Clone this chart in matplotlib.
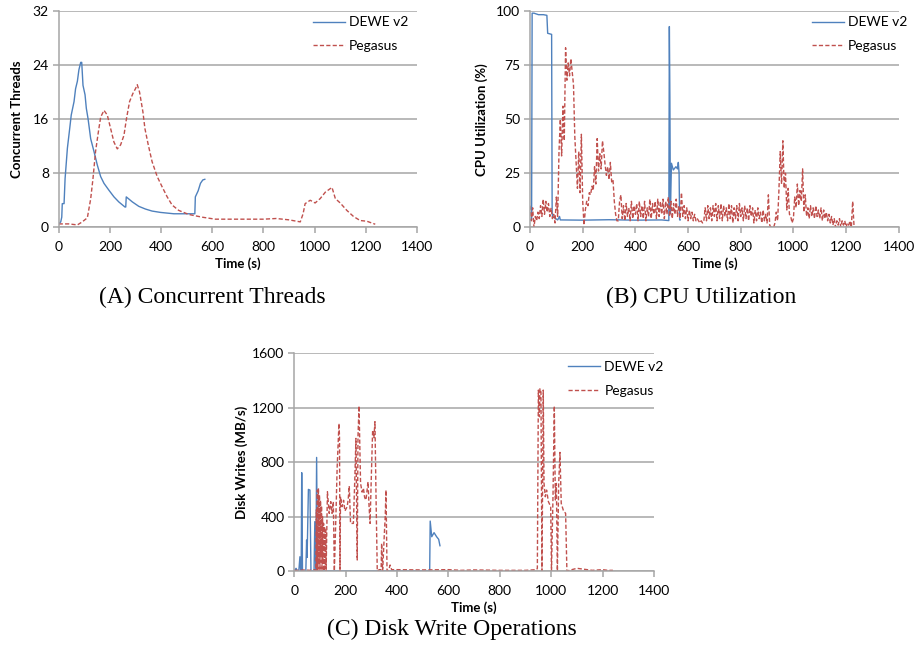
import numpy as np
import matplotlib
matplotlib.use("Agg")
import matplotlib.pyplot as plt

# ---------------- data ----------------
# (A) Concurrent threads
dewe_thr_t = [0, 8, 12, 14, 21, 25, 34, 43, 49, 60, 66, 73, 79, 86, 90, 95, 103, 108, 115, 125,
              138, 151, 164, 177, 196, 216, 235, 259, 262, 264, 288, 313, 339, 365, 398, 450,
              489, 532, 534, 545, 554, 563, 571]
dewe_thr_v = [0.5, 0.8, 1.5, 3.5, 3.5, 7.2, 11.7, 14.6, 16.6, 18.6, 20.5, 21.6, 23.3, 24.4, 24.4,
              21.0, 19.6, 17.6, 16.0, 13.1, 11.2, 9.2, 7.5, 6.5, 5.5, 4.5, 3.75, 3.0, 3.0, 4.5,
              3.75, 3.1, 2.7, 2.4, 2.2, 2.0, 2.0, 2.0, 4.5, 5.4, 6.5, 7.0, 7.1]

peg_thr_t = [0, 40, 73, 92, 112, 125, 134, 144, 155, 164, 177, 190, 203, 216, 229, 242, 255, 265,
             277, 290, 300, 307, 316, 329, 337, 350, 365, 385, 404, 424, 443, 469, 508, 560, 612,
             700, 800, 850, 900, 944, 955, 963, 983, 1002, 1022, 1042, 1068, 1081, 1100, 1126,
             1152, 1178, 1204, 1237]
peg_thr_v = [0.5, 0.5, 0.35, 0.8, 1.4, 4.2, 7.2, 11.2, 14.1, 16.3, 17.3, 16.6, 14.6, 12.6, 11.6,
             12.2, 13.6, 16.1, 18.6, 19.8, 20.5, 21.1, 20.0, 17.1, 14.6, 12.2, 9.7, 7.5, 6.0, 4.5,
             3.3, 2.5, 1.9, 1.5, 1.2, 1.2, 1.2, 1.3, 1.1, 0.8, 2.0, 3.5, 4.0, 3.6, 4.25, 5.2, 5.9,
             4.25, 3.6, 2.5, 1.6, 1.0, 0.9, 0.45]

# (B) CPU utilization
dewe_cpu_t = [0, 6, 8, 15, 32, 51, 64, 67, 82, 84, 86, 95, 105, 112, 115, 120, 200, 300, 400,
              500, 527, 529, 531, 533, 537, 544, 554, 560, 563, 566, 568, 570]
dewe_cpu_v = [3.4, 3.4, 99.0, 99.0, 98.3, 98.3, 98.0, 89.7, 89.2, 6.5, 5.0, 4.2, 3.4, 5.0, 3.4,
              3.4, 3.3, 3.5, 3.3, 3.4, 3.1, 92.8, 60.0, 6.5, 29.6, 26.5, 28.0, 27.0, 30.0, 25.0,
              3.4, 3.4]

peg_cpu_step = 5  # sampling interval (s)
peg_cpu_v = [10, 3, 9, 0, 5, 3, 7, 4, 10, 5, 13, 6, 12, 7, 11, 5, 9, 4, 6, 2,
             14, 5, 35, 50, 33, 56, 40, 83, 68, 76, 70, 78, 72, 66, 42, 30, 18, 35, 16, 43,
             12, 1, 8, 12, 10, 16, 15, 19, 17, 28, 20, 41, 26, 34, 27, 40, 35, 29, 24, 28,
             22, 30, 21, 22, 12, 6, 3, 3, 12, 15, 4, 10, 3, 11, 5, 9, 3, 12, 4, 10,
             6, 11, 3, 12, 5, 10, 4, 12, 3, 9, 5, 13, 4, 11, 6, 12, 4, 13, 5, 12,
             6, 13, 4, 12, 6, 14, 5, 12, 4, 11, 6, 13, 5, 10, 4, 16, 5, 10, 4, 9,
             3, 8, 4, 7, 3, 6, 3, 4, 3, 2, 3, 2, 3, 9, 3, 10, 4, 9, 3, 10,
             5, 11, 3, 10, 4, 11, 3, 10, 5, 9, 3, 11, 4, 10, 2, 9, 4, 10, 3, 11,
             5, 9, 3, 10, 4, 9, 3, 10, 5, 9, 2, 8, 3, 9, 4, 7, 2, 8, 3, 6,
             2, 15, 1, 0, 0, 0, 2, 7, 3, 17, 35, 20, 40, 18, 25, 8, 18, 6, 5, 2,
             4, 14, 9, 20, 10, 17, 12, 27, 7, 15, 5, 9, 4, 10, 5, 9, 4, 10, 5, 8,
             4, 9, 3, 8, 4, 7, 3, 6, 2, 5, 1, 4, 0, 3, 1, 4, 0, 3, 1, 3,
             0, 2, 1, 3, 0, 12, 1]

# (C) Disk writes
dewe_dw_t = [0, 7, 12, 18, 22, 25, 27, 29, 32, 45, 48, 50, 55, 61, 65, 77, 80, 84, 87, 90, 100,
             300, 527, 529, 535, 544, 554, 562, 567]
dewe_dw_v = [0, 20, 0, 7, 105, 0, 0, 723, 0, 0, 228, 100, 600, 595, 0, 0, 363, 0, 835, 0, 0,
             0, 0, 367, 252, 282, 252, 233, 186]

peg_dw_t = [0, 20, 40, 60, 80, 84, 86, 88, 90, 92, 94, 96, 98, 100, 102, 104, 106, 108, 110, 112,
            114, 116, 118, 120, 122, 124, 129, 136, 142, 147, 152, 156, 162, 167, 174, 176, 178,
            180, 186, 192, 197, 206, 210, 214, 219, 230, 236, 240, 245, 248, 252, 258, 264, 269,
            274, 279, 287, 291, 295, 300, 305, 310, 314, 318, 323, 331, 338, 340, 344, 350, 354,
            357, 361, 368, 373, 379, 400, 500, 600, 650, 700, 800, 900, 943, 946, 950, 954, 956,
            960, 964, 969, 972, 977, 982, 989, 998, 1001, 1007, 1012, 1016, 1020, 1024, 1029,
            1034, 1039, 1048, 1056, 1061, 1080, 1100, 1120, 1140, 1160, 1200, 1220, 1240]
peg_dw_v = [5, 5, 8, 5, 10, 0, 450, 0, 595, 0, 609, 50, 560, 0, 520, 100, 480, 0, 400, 50,
            350, 0, 326, 20, 300, 0, 583, 424, 510, 424, 510, 0, 400, 767, 1085, 990, 0,
            546, 473, 520, 441, 473, 530, 625, 350, 350, 700, 975, 81, 990, 1213, 644, 580, 609,
            540, 522, 656, 480, 350, 700, 1036, 980, 1098, 571, 0, 10, 10, 203, 0, 252, 400,
            595, 0, 10, 44, 10, 10, 8, 10, 5, 8, 5, 5, 10, 20, 1330, 1134, 1340,
            1315, 0, 1330, 644, 546, 595, 510, 473, 0, 559, 1213, 522, 644, 0, 644,
            872, 497, 441, 424, 0, 10, 20, 15, 10, 5, 10, 5, 5]

x_ticks = [0, 200, 400, 600, 800, 1000, 1200, 1400]
series_names = ["DEWE v2", "Pegasus"]
captions = ["(A) Concurrent Threads", "(B) CPU Utilization", "(C) Disk Write Operations"]

# ---------------- style ----------------
BLUE = '#4F81BD'
RED = '#C0504D'
GRID = '#A6A6A6'

plt.rcParams['font.family'] = ['Lato', 'DejaVu Sans']

fig = plt.figure(figsize=(9.17, 6.59), dpi=100)

axA = fig.add_axes([0.0640, 0.6551, 0.3907, 0.3282])
axB = fig.add_axes([0.5780, 0.6551, 0.4021, 0.3282])
axC = fig.add_axes([0.3209, 0.1335, 0.3923, 0.3303])


def style(ax, ymax, ystep, ylabel, ylab_x, leg_x, leg_y):
    ax.set_xlim(0, 1400)
    ax.set_ylim(0, ymax)
    ax.set_xticks(x_ticks)
    ax.set_yticks(np.arange(0, ymax + 1, ystep))
    ax.yaxis.grid(True, color=GRID, lw=1.1)
    ax.set_axisbelow(True)
    for s in ['top', 'right']:
        ax.spines[s].set_visible(False)
    for s in ['left', 'bottom']:
        ax.spines[s].set_color(GRID)
        ax.spines[s].set_linewidth(1.1)
    ax.tick_params(axis='both', direction='out', length=4, width=1.1, color=GRID,
                   labelsize=10, labelcolor='black')
    ax.tick_params(axis='x', pad=6)
    ax.tick_params(axis='y', pad=3)
    ax.set_xlabel("Time (s)", fontsize=9.5, fontweight='bold')
    ax.xaxis.set_label_coords(0.5, -0.14)
    ax.set_ylabel(ylabel, fontsize=9.5, fontweight='bold')
    ax.yaxis.set_label_coords(ylab_x, 0.5)
    ax.legend(frameon=False, loc='upper left', bbox_to_anchor=(leg_x, leg_y),
              borderpad=0, borderaxespad=0, handlelength=2.3, handletextpad=0.3,
              labelspacing=0.85, fontsize=10)


dash = (0, (3, 1.6))

axA.plot(dewe_thr_t, dewe_thr_v, color=BLUE, lw=1.0, label=series_names[0])
axA.plot(peg_thr_t, peg_thr_v, color=RED, lw=1.0, ls=dash, label=series_names[1])
style(axA, 32, 8, "Concurrent Threads", -0.100, 0.71, 0.975)

peg_cpu_t = np.arange(len(peg_cpu_v)) * peg_cpu_step
axB.plot(dewe_cpu_t, dewe_cpu_v, color=BLUE, lw=1.0, label=series_names[0])
axB.plot(peg_cpu_t, peg_cpu_v, color=RED, lw=1.0, ls=dash, label=series_names[1])
style(axB, 100, 25, "CPU Utilization (%)", -0.114, 0.764, 0.975)

axC.plot(dewe_dw_t, dewe_dw_v, color=BLUE, lw=1.0, label=series_names[0])
axC.plot(peg_dw_t, peg_dw_v, color=RED, lw=1.0, ls=dash, label=series_names[1])
style(axC, 1600, 400, "Disk Writes (MB/s)", -0.129, 0.762, 0.965)

cap_kw = dict(family=['Liberation Serif', 'DejaVu Serif'], fontsize=17, ha='center', va='center')
fig.text(212 / 917, 1 - 297 / 659, captions[0], **cap_kw)
fig.text(701 / 917, 1 - 297 / 659, captions[1], **cap_kw)
fig.text(452 / 917, 1 - 629 / 659, captions[2], **cap_kw)

fig.savefig("out.png", dpi=100)
